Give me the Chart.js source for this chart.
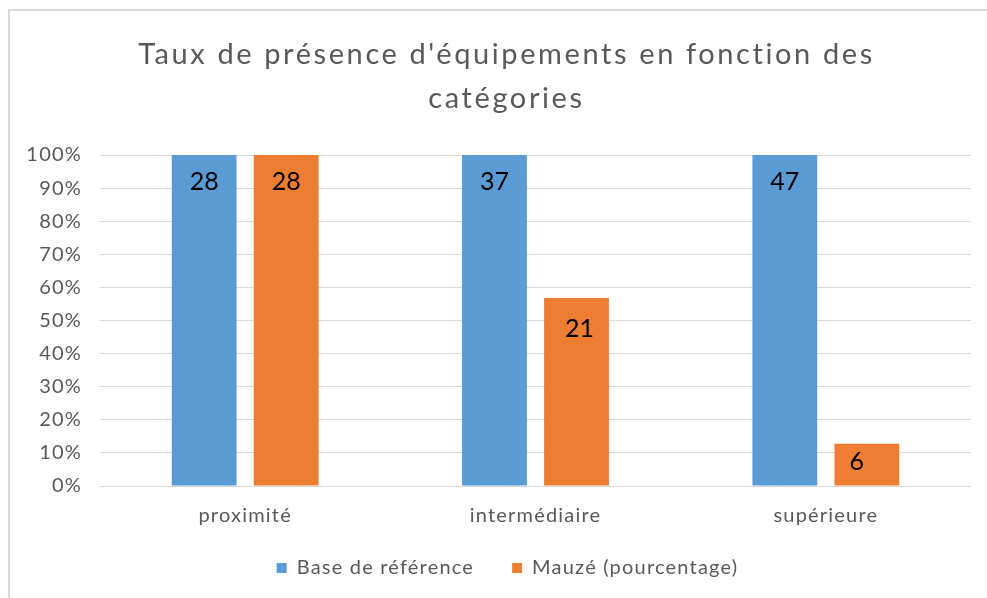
<!DOCTYPE html>
<html lang="fr">
<head>
<meta charset="utf-8">
<title>Taux de présence d'équipements</title>
<script src="https://cdn.jsdelivr.net/npm/chart.js@4.4.1/dist/chart.umd.min.js"></script>
<style>
  html, body { margin: 0; padding: 0; background: #fff; overflow: hidden; }
  #frame { position: absolute; left: 8px; top: 9px; border-left: 2px solid #d9d9d9; border-top: 2px solid #d9d9d9; }
  #chart { display: block; }
</style>
</head>
<body>
<div id="frame"><canvas id="chart" width="991" height="600"></canvas></div>
<script>
// data
const categories = ['proximité', 'intermédiaire', 'supérieure'];
const seriesNames = ['Base de référence', 'Mauzé (pourcentage)'];
const basePercent = [100, 100, 100];
const mauzePercent = [100, 56.8, 12.8];
// numbers printed inside the bars
const baseCounts = [28, 37, 47];
const mauzeCounts = [28, 21, 6];
const yMin = 0, yMax = 100, yStep = 10;

const grey = '#595959';
const font = 'Lato';
const textSpacing = '1.2px';
const titleSpacing = '2.6px';

// labels drawn near the top end of each bar (dx/dy per dataset and bar, in px)
const barLabels = {
  id: 'barLabels',
  afterDatasetsDraw(chart, args, opts) {
    const ctx = chart.ctx;
    ctx.save();
    ctx.letterSpacing = '0px';
    ctx.font = `25px ${font}`;
    ctx.fillStyle = '#000';
    ctx.textAlign = 'center';
    ctx.textBaseline = 'middle';
    chart.data.datasets.forEach((ds, i) => {
      chart.getDatasetMeta(i).data.forEach((bar, j) => {
        const dx = opts.dx?.[i]?.[j] ?? 0;
        const dy = opts.dy?.[i]?.[j] ?? 27;
        ctx.fillText(String(ds.counts[j]), bar.x + dx, bar.y + dy);
      });
    });
    ctx.restore();
  }
};

// wider letter spacing, like the Office rendering; title and legend centred on the whole frame
const spacing = {
  id: 'spacing',
  beforeLayout(chart) { chart.ctx.letterSpacing = textSpacing; },
  afterLayout(chart) {
    const legend = chart.legend;
    if (legend) {
      legend.top -= 18; legend.bottom -= 18;
      legend.left += 17; legend.right += 17;
    }
    const title = chart.titleBlock;
    if (title) {
      title.left += 16; title.right += 16;
      if (!title.spaced) {
        const draw = title.draw;
        title.draw = function () {
          this.ctx.letterSpacing = titleSpacing;
          draw.apply(this, arguments);
          this.ctx.letterSpacing = textSpacing;
        };
        title.spaced = true;
      }
    }
  },
  beforeDraw(chart) { chart.ctx.letterSpacing = textSpacing; }
};

new Chart(document.getElementById('chart'), {
  type: 'bar',
  data: {
    labels: categories,
    datasets: [
      { label: seriesNames[0], data: basePercent, counts: baseCounts, backgroundColor: '#5b9bd5' },
      { label: seriesNames[1], data: mauzePercent, counts: mauzeCounts, backgroundColor: '#ed7d31' }
    ]
  },
  options: {
    responsive: false,
    animation: false,
    categoryPercentage: 0.565,
    barPercentage: 0.79,
    layout: { padding: { top: 21, right: 30, bottom: 5, left: 0 } },
    plugins: {
      title: {
        display: true,
        text: ["Taux de présence d'équipements en fonction des", 'catégories'],
        color: grey,
        font: { family: font, size: 29, weight: 'normal', lineHeight: 1.535 },
        padding: { top: 0, bottom: 34 }
      },
      legend: {
        position: 'bottom',
        labels: {
          boxWidth: 10,
          boxHeight: 10,
          padding: 38,
          color: grey,
          font: { family: font, size: 20 }
        }
      },
      tooltip: { enabled: false },
      barLabels: {
        dx: [[0, 0, 0], [0, 3, -10]],
        dy: [[27, 27, 27], [27, 31, 18]]
      }
    },
    scales: {
      x: {
        grid: { display: false, drawTicks: false, tickLength: 0 },
        border: { display: false },
        ticks: { color: grey, font: { family: font, size: 20 }, padding: 18 },
        afterFit: s => { s.height = 52; }
      },
      y: {
        min: yMin,
        max: yMax,
        grid: { color: '#d9d9d9', lineWidth: 1, drawTicks: false, tickLength: 0 },
        border: { display: false },
        ticks: {
          stepSize: yStep,
          color: grey,
          font: { family: font, size: 20 },
          padding: 18,
          callback: v => v + '%'
        },
        afterFit: s => { s.width = 90; }
      }
    }
  },
  plugins: [barLabels, spacing]
});
</script>
</body>
</html>
